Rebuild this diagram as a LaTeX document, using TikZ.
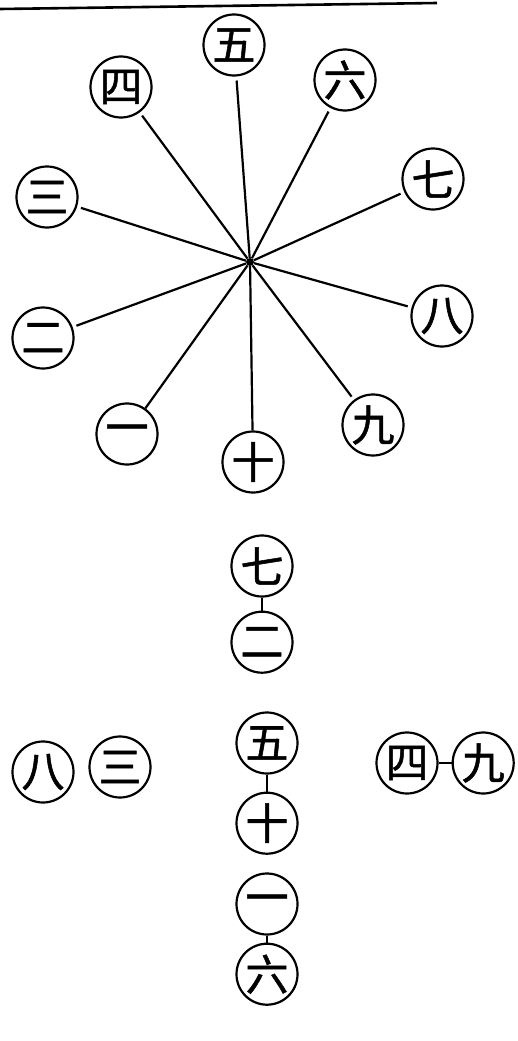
\documentclass[tikz,border=0pt]{standalone}
\usepackage{fontspec}
\newfontfamily\cjk[FakeBold=1.2]{Noto Sans CJK SC}
\usepackage{tikz}
\usetikzlibrary{positioning}

\begin{document}
\begin{tikzpicture}[
  x=1pt, y=-1pt,
  num/.style={draw, circle, line width=2.2pt, minimum size=61pt, inner sep=0pt, font=\cjk\fontsize{43}{43}\selectfont},
  hub/.style={circle, fill=black, minimum size=8pt, inner sep=0pt},
  spoke/.style={line width=2.2pt, shorten >=4pt},
  link/.style={line width=2.2pt},
]
\useasboundingbox (0,0) rectangle (518,1041);

% Page rule
\coordinate (ruleA) at (0,9);
\coordinate (ruleB) at (437,3);
\draw[line width=2.6pt] (ruleA) -- (ruleB);

% Star of ten
\node[hub] (hub) at (250,262) {};
\node[num] (s5) at (234,45) {五};
\node[num] (s6) at (345,80) {六};
\node[num] (s7) at (433,179) {七};
\node[num] (s8) at (442,316) {八};
\node[num] (s9) at (373,425) {九};
\node[num] (s10) at (253,462) {十};
\node[num] (s1) at (127,434) {一};
\node[num] (s2) at (43,338) {二};
\node[num] (s3) at (47,197) {三};
\node[num] (s4) at (121,87) {四};

% Spokes
\draw[spoke] (hub) -- (s5);
\draw[spoke] (hub) -- (s6);
\draw[spoke] (hub) -- (s7);
\draw[spoke] (hub) -- (s8);
\draw[spoke] (hub) -- (s9);
\draw[link] (hub) -- (s10);
\draw[link] (hub) -- (s1);
\draw[spoke] (hub) -- (s2);
\draw[spoke] (hub) -- (s3);
\draw[spoke] (hub) -- (s4);

% Top pair
\node[num] (t7) at (262,566) {七};
\node[num, below=13pt of t7] (t2) {二};

% Middle pair
\node[num] (m5) at (267,743) {五};
\node[num, below=17pt of m5] (m10) {十};

% Bottom pair
\node[num] (b1) at (267,904) {一};
\node[num, below=7pt of b1] (b6) {六};

% Left pair
\node[num] (l8) at (43,772) {八};
\node[num] (l3) at (120,767) {三};

% Right pair
\node[num] (r4) at (407,763) {四};
\node[num, right=13pt of r4] (r9) {九};

% Links
\draw[link] (t7) -- (t2);
\draw[link] (m5) -- (m10);
\draw[link] (b1) -- (b6);
\draw[link] (r4) -- (r9);

\end{tikzpicture}
\end{document}
